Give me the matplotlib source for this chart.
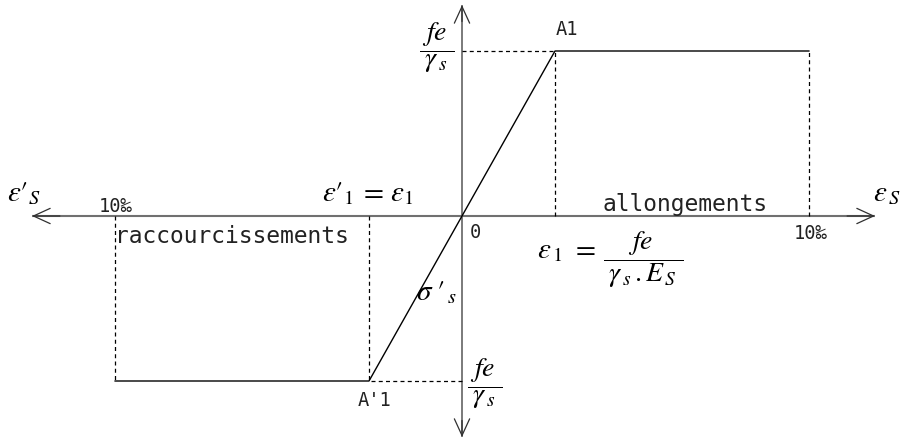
import matplotlib
matplotlib.use("Agg")
import matplotlib.pyplot as plt
from matplotlib.patches import FancyArrowPatch

# ---- data (schematic units: strain in units of eps_1, stress in units of fe/gamma_s)
eps_1 = 1.0          # elastic limit strain  eps_1 = fe / (gamma_s . E_s)
eps_lim = 3.73       # 10 per-mille limit (schematic)
f_d = 1.0            # fe / gamma_s
strain = [-eps_lim, -eps_1, 0.0, eps_1, eps_lim]
stress = [-f_d, -f_d, 0.0, f_d, f_d]
lim_label = "10‰"
zone_labels = ["raccourcissements", "allongements"]
point_labels = ["A1", "A'1", "0"]

# ---- layout
W, H = 903, 441
X0, Y0 = 462, 216          # origin position (px)
PX_X, PX_Y = 93.0, 165.0   # px per unit

plt.rcParams['mathtext.fontset'] = 'stix'
fig = plt.figure(figsize=(W / 100, H / 100), dpi=100)
ax = fig.add_axes([0, 0, 1, 1])
ax.set_xlim(-X0 / PX_X, (W - X0) / PX_X)
ax.set_ylim(-(H - Y0) / PX_Y, Y0 / PX_Y)
ax.axis('off')


def px(x, y):
    return ((x - X0) / PX_X, (Y0 - y) / PX_Y)


axis_col = '#707070'
head_col = '#303030'
# axes lines
xl, _ = px(32, 0)
xr, _ = px(875, 0)
_, yt = px(0, 5)
_, yb = px(0, 437)
ax.plot([xl, xr], [0, 0], color=axis_col, lw=1.5, solid_capstyle='butt', zorder=1)
ax.plot([0, 0], [yb, yt], color=axis_col, lw=1.3, solid_capstyle='butt', zorder=1)


def head(p_from, p_to):
    ax.add_patch(FancyArrowPatch(p_from, p_to,
                                 arrowstyle='->,head_length=1.2,head_width=0.55',
                                 mutation_scale=10, color=head_col, lw=0.9,
                                 shrinkA=0, shrinkB=0, zorder=2))


head((xl + 0.3, 0), (xl, 0))
head((xr - 0.3, 0), (xr, 0))
head((0, yt - 0.1), (0, yt))
head((0, yb + 0.1), (0, yb))

# stress-strain law
ax.plot(strain, stress, color='black', lw=1.0, zorder=3)

# dashed guides
dash_kw = dict(color='black', lw=0.9, linestyle=(0, (3.2, 2.6)), zorder=2)
for s, f in [(strain[3], stress[3]), (strain[4], stress[4]),
             (strain[1], stress[1]), (strain[0], stress[0])]:
    ax.plot([s, s], [0, f], **dash_kw)
ax.plot([0, strain[3]], [stress[3], stress[3]], **dash_kw)
ax.plot([0, strain[1]], [stress[1], stress[1]], **dash_kw)

# CAD-like labels
cad = dict(family='DejaVu Sans Mono', color='#222222')
ax.text(*px(99, 212), lim_label, fontsize=13.5, ha='left', va='baseline', **cad)
ax.text(*px(794, 239), lim_label, fontsize=13.5, ha='left', va='baseline', **cad)
ax.text(*px(232, 243), zone_labels[0], fontsize=16.5, ha='center', va='baseline', **cad)
ax.text(*px(685, 211), zone_labels[1], fontsize=16.5, ha='center', va='baseline', **cad)
ax.text(*px(556, 35), point_labels[0], fontsize=13.5, ha='left', va='baseline', **cad)
ax.text(*px(358, 406), point_labels[1], fontsize=13.5, ha='left', va='baseline', **cad)
ax.text(*px(470, 238), point_labels[2], fontsize=13.5, ha='left', va='baseline', **cad)

# math labels
ef = 21   # epsilon / sigma labels
ff = 20   # fractions
ax.text(*px(7, 201), r"$\varepsilon\prime_{S}$", fontsize=ef, ha='left', va='baseline')
ax.text(*px(873, 201), r"$\varepsilon_{\,S}$", fontsize=ef, ha='left', va='baseline')
ax.text(*px(322, 201), r"$\varepsilon\prime_{1}\,=\,\varepsilon_{1}$", fontsize=ef,
        ha='left', va='baseline')
ax.text(*px(537, 258), r"$\varepsilon_{\,1}\ =$", fontsize=ef, ha='left', va='baseline')
ax.text(*px(643, 260), r"$\dfrac{fe}{\;\gamma_{\,s}\,.E_{\,S}\;}$", fontsize=ff,
        ha='center', va='center')
ax.text(*px(437, 48), r"$\dfrac{fe}{\;\gamma_{\,s}\;}$", fontsize=ff, ha='center', va='center')
ax.text(*px(485, 384), r"$\dfrac{fe}{\;\gamma_{\,s}\;}$", fontsize=ff, ha='center', va='center')
ax.text(*px(416, 300), r"$\sigma\;\prime_{\,s}$", fontsize=ef, ha='left', va='baseline')

fig.savefig('out.png', dpi=100, facecolor='white')
